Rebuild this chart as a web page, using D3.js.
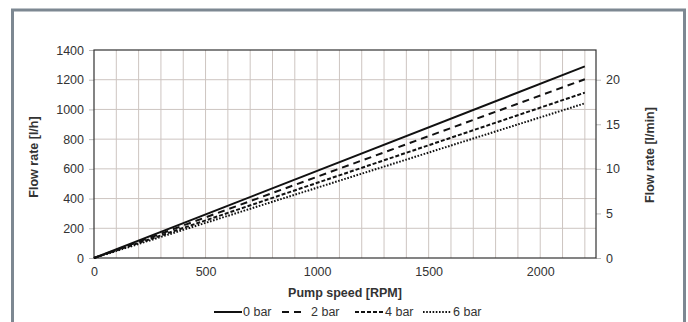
<!DOCTYPE html>
<html>
<head>
<meta charset="utf-8">
<script src="https://cdn.jsdelivr.net/npm/d3@7"></script>
<style>
  html, body { margin: 0; padding: 0; background: #fff; }
  svg { display: block; }
  text { font-family: "Liberation Sans", Arial, sans-serif; fill: #333; }
</style>
</head>
<body>
<svg id="chart" width="688" height="322"></svg>
<script>
// Pump flow rate vs. speed at different back pressures
const speeds = [0, 2200];
const seriesNames = ["0 bar", "2 bar", "4 bar", "6 bar"];
const flow0bar = [0, 1290];
const flow2bar = [0, 1203];
const flow4bar = [0, 1113];
const flow6bar = [0, 1041];
const xTicks = [0, 500, 1000, 1500, 2000];
const yTicksLh = [0, 200, 400, 600, 800, 1000, 1200, 1400];
const yTicksLmin = [0, 5, 10, 15, 20];

const seriesValues = [flow0bar, flow2bar, flow4bar, flow6bar];
const dashes = [null, "7,5", "4,2", "1.6,1.6"];

const svg = d3.select("#chart");
const W = 688, H = 322;
const fs = "12.5px";

// panel frame
svg.append("rect").attr("x", 0).attr("y", 0).attr("width", W).attr("height", H).attr("fill", "#fff");
svg.append("rect").attr("x", 12.5).attr("y", 10).attr("width", 672).attr("height", 330)
  .attr("fill", "none").attr("stroke", "#7d8892").attr("stroke-width", 3);

const plotL = 94, plotR = 596, plotT = 50, plotB = 258;
const x = d3.scaleLinear().domain([0, 2250]).range([plotL, plotR]);
const y = d3.scaleLinear().domain([0, 1400]).range([plotB, plotT]);
const y2 = d3.scaleLinear().domain([0, 1400 / 60]).range([plotB, plotT]);

// grid
const g = svg.append("g");
g.selectAll("line.v").data(d3.range(100, 2250, 100)).join("line")
  .attr("x1", d => x(d)).attr("x2", d => x(d)).attr("y1", plotT).attr("y2", plotB)
  .attr("stroke", "#cdc5c1").attr("stroke-width", 1);
g.selectAll("line.h").data(yTicksLh.slice(1, -1)).join("line")
  .attr("x1", plotL).attr("x2", plotR).attr("y1", d => y(d)).attr("y2", d => y(d))
  .attr("stroke", "#cdc5c1").attr("stroke-width", 1);

// axes
const ax = svg.append("g").attr("transform", `translate(0,${plotB})`)
  .call(d3.axisBottom(x).tickValues(xTicks).tickSize(0).tickPadding(9).tickFormat(d3.format("d")));
const ayl = svg.append("g").attr("transform", `translate(${plotL},0)`)
  .call(d3.axisLeft(y).tickValues(yTicksLh).tickSize(5).tickPadding(5).tickFormat(d3.format("d")));
const ayr = svg.append("g").attr("transform", `translate(${plotR},0)`)
  .call(d3.axisRight(y2).tickValues(yTicksLmin).tickSize(5).tickPadding(5).tickFormat(d3.format("d")));
[ax, ayl, ayr].forEach(a => {
  a.select(".domain").remove();
  a.selectAll(".tick line").attr("stroke", "#bbb");
  a.selectAll("text").style("font-size", fs).attr("fill", "#333");
});

// plot border
svg.append("rect").attr("x", plotL).attr("y", plotT).attr("width", plotR - plotL).attr("height", plotB - plotT)
  .attr("fill", "none").attr("stroke", "#333").attr("stroke-width", 1.2);

// series lines
const line = d3.line().x((d, i) => x(speeds[i])).y(d => y(d));
seriesValues.forEach((vals, i) => {
  svg.append("path").datum(vals).attr("d", line)
    .attr("fill", "none").attr("stroke", "#111").attr("stroke-width", 2)
    .attr("stroke-dasharray", dashes[i]);
});

// axis titles
svg.append("text").attr("x", 345).attr("y", 297).attr("text-anchor", "middle")
  .style("font-size", fs).style("font-weight", "bold").text("Pump speed [RPM]");
svg.append("text").attr("transform", "translate(38,157) rotate(-90)").attr("text-anchor", "middle")
  .style("font-size", fs).style("font-weight", "bold").text("Flow rate [l/h]");
svg.append("text").attr("transform", "translate(654,155) rotate(-90)").attr("text-anchor", "middle")
  .style("font-size", fs).style("font-weight", "bold").text("Flow rate [l/min]");

// legend
const legendItems = [
  { x0: 214, x1: 242, tx: 243 },
  { x0: 282, x1: 302, tx: 311 },
  { x0: 355, x1: 384, tx: 385 },
  { x0: 423, x1: 451, tx: 453 }
];
legendItems.forEach((it, i) => {
  svg.append("line").attr("x1", it.x0).attr("x2", it.x1).attr("y1", 312).attr("y2", 312)
    .attr("stroke", "#111").attr("stroke-width", 2).attr("stroke-dasharray", dashes[i]);
  svg.append("text").attr("x", it.tx).attr("y", 316).style("font-size", fs).text(seriesNames[i]);
});
</script>
</body>
</html>
